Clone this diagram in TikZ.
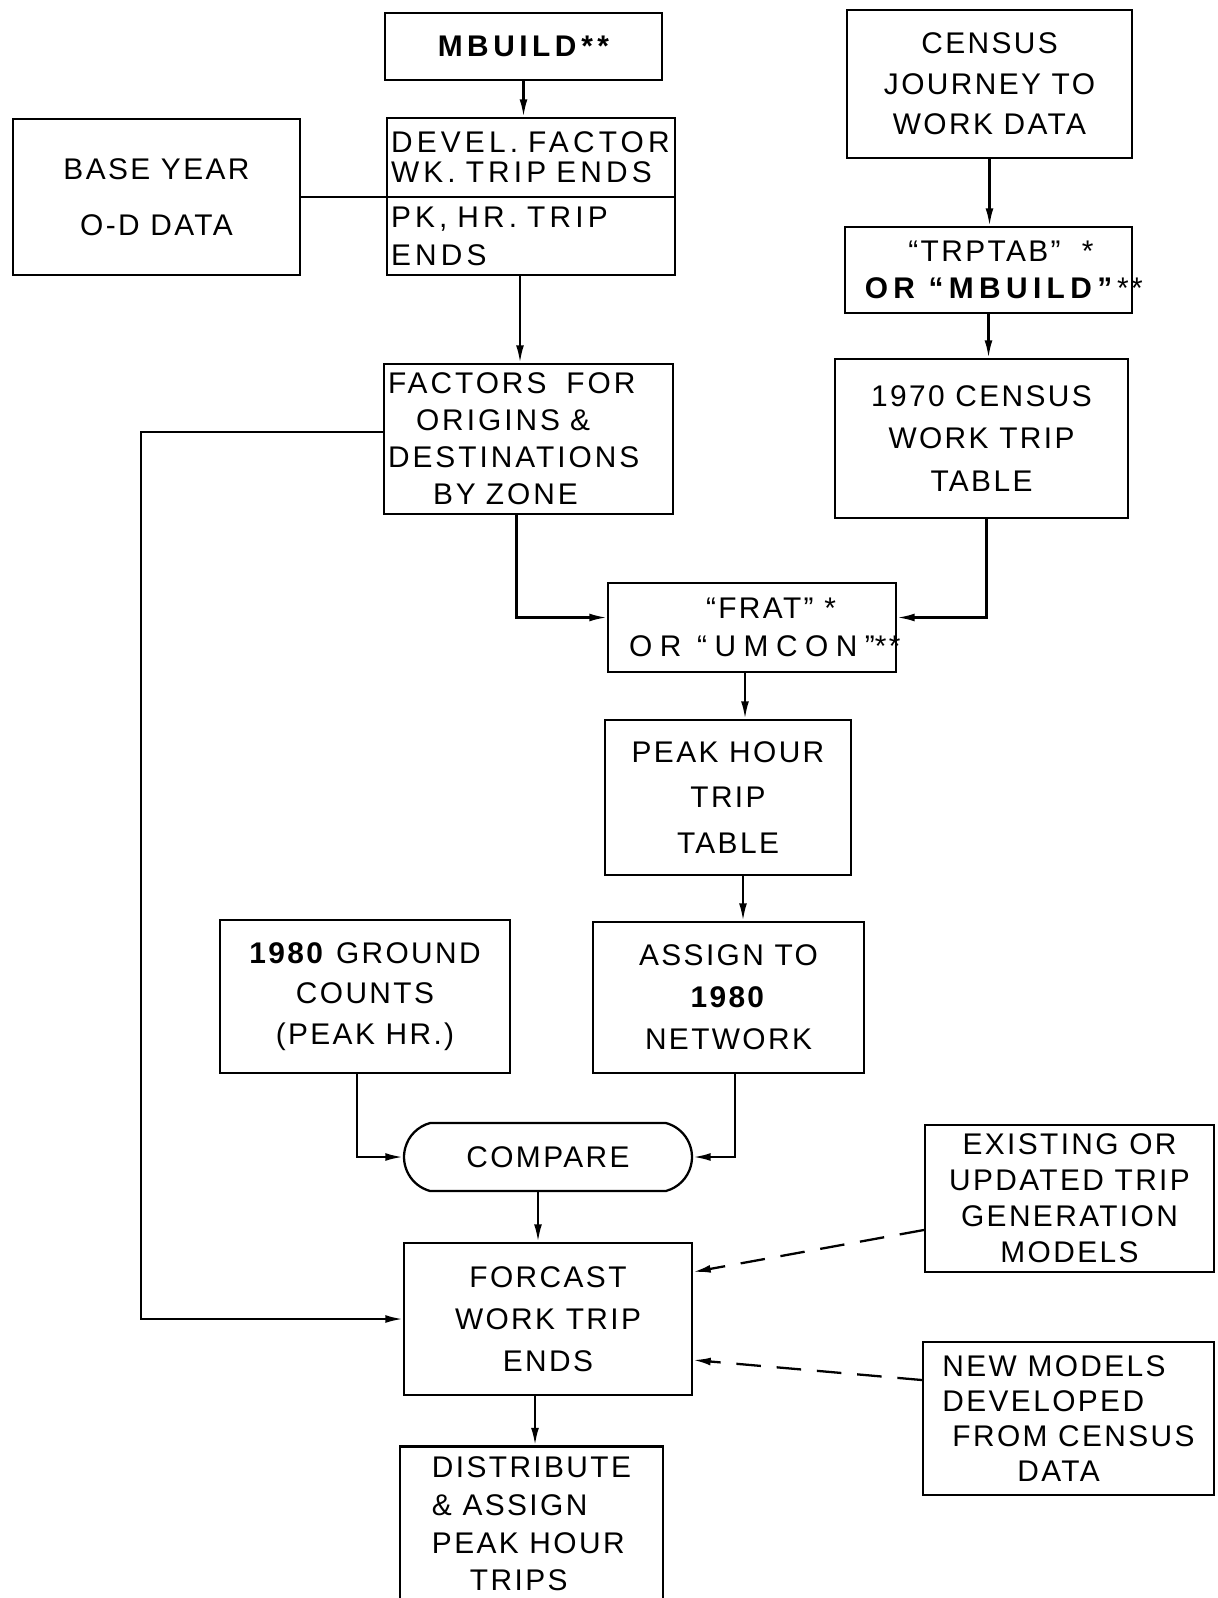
\documentclass[tikz,border=0pt]{standalone}
\usepackage{fontspec}
\setmainfont{Liberation Sans}[LetterSpace=8]
\usetikzlibrary{arrows.meta,shapes.misc}

\begin{document}
\begin{tikzpicture}[x=0.02cm,y=-0.02cm,font=\fontsize{17}{23}\selectfont,
  box/.style={draw,line width=1.3pt,align=center,inner sep=0pt},
  lbox/.style={box,align=left,inner xsep=0.08cm},
  link/.style={line width=1.3pt},
  arr/.style={line width=1.3pt,-{Latex[length=10pt,width=4.5pt]}},
  dasharr/.style={arr,dash pattern=on 14pt off 9pt}]
  \useasboundingbox (0,0) rectangle (1217,1598);
  \clip (0,0) rectangle (1217,1598);
  \fill[white] (0,0) rectangle (1217,1598);

  \node[box,minimum width=5.54cm,minimum height=1.34cm] (mbuild) at (523.5,46.5) {\bfseries\addfontfeature{LetterSpace=15}MBUILD\,**};
  \node[lbox,text width=5.6cm,minimum height=1.58cm,font=\fontsize{17}{17}\selectfont\addfontfeature{LetterSpace=14}] (devela) at (531,157.5) {DEVEL. FACTOR\\WK. TRIP ENDS};
  \node[lbox,text width=5.6cm,minimum height=1.56cm,font=\fontsize{17}{21.5}\selectfont\addfontfeature{LetterSpace=14}] (develb) at (531,236) {PK, HR. TRIP\\ENDS};
  \node[box,minimum width=5.74cm,minimum height=3.12cm,font=\fontsize{17}{32}\selectfont] (baseyr) at (156.5,197) {BASE YEAR\\O-D DATA};
  \node[box,minimum width=5.7cm,minimum height=2.96cm] (census) at (989.5,84) {CENSUS\\JOURNEY TO\\WORK DATA};
  \node[box,minimum width=5.74cm,minimum height=1.72cm,font=\fontsize{17}{21}\selectfont] (trptab) at (988.5,270) {\hspace*{0.5cm}``TRPTAB''\ \ *\\{\bfseries\addfontfeature{LetterSpace=18}OR ``MBUILD''}\rlap{\,**}};
  \node[box,minimum width=5.86cm,minimum height=3.18cm,font=\fontsize{17}{24}\selectfont] (census70) at (981.5,438.5) {1970 CENSUS\\WORK TRIP\\TABLE};
  \node[lbox,text width=5.62cm,minimum height=3cm,font=\fontsize{17}{21}\selectfont\addfontfeature{LetterSpace=10}] (factors) at (528.5,439) {FACTORS\ \ FOR\\\hspace*{0.56cm}ORIGINS \&\\DESTINATIONS\\\hspace*{0.9cm}BY ZONE};
  \node[box,minimum width=5.76cm,minimum height=1.78cm,font=\fontsize{17}{22}\selectfont] (frat) at (752,627.5) {\hspace*{0.76cm}``FRAT''\ *\\{\addfontfeature{LetterSpace=25}OR ``UMCON''}\rlap{**}};
  \node[box,minimum width=4.92cm,minimum height=3.1cm,font=\fontsize{17}{26}\selectfont] (peak) at (728,797.5) {PEAK HOUR\\TRIP\\TABLE};
  \node[box,minimum width=5.42cm,minimum height=3.02cm,font=\fontsize{17}{24}\selectfont] (assign) at (728.5,997.5) {ASSIGN TO\\\textbf{1980}\\NETWORK};
  \node[box,minimum width=5.8cm,minimum height=3.06cm] (ground) at (365,996.5) {\textbf{1980} GROUND\\COUNTS\\(PEAK HR.)};
  \node[box,rounded rectangle,rounded rectangle arc length=150,minimum width=5.76cm,minimum height=1.36cm] (compare) at (548,1157) {COMPARE};
  \node[box,minimum width=5.76cm,minimum height=3.04cm,font=\fontsize{17}{24}\selectfont] (forcast) at (548,1319) {FORCAST\\WORK TRIP\\ENDS};
  \node[box,minimum width=5.78cm,minimum height=2.94cm,font=\fontsize{17}{20.5}\selectfont] (existing) at (1069.5,1198.5) {EXISTING OR\\UPDATED TRIP\\GENERATION\\MODELS};
  \node[box,align=left,minimum width=5.82cm,minimum height=3.06cm,font=\fontsize{17}{20}\selectfont] (newmod) at (1068.5,1418.5) {NEW MODELS\\DEVELOPED\\\hspace*{0.2cm}FROM CENSUS\\\hspace*{1.5cm}DATA};
  \node[box,align=left,minimum width=5.26cm,minimum height=3.1cm,font=\fontsize{17}{21.5}\selectfont] (distrib) at (531.5,1524) {DISTRIBUTE\\\& ASSIGN\\PEAK HOUR\\\hspace*{0.76cm}TRIPS};

  \coordinate (d1) at ([xshift=-0.22cm]develb.south);
  \coordinate (f1) at ([xshift=-0.14cm]frat.south);
  \coordinate (p1) at ([xshift=0.3cm]peak.south);
  \coordinate (c1) at ([xshift=-0.2cm]compare.south);
  \coordinate (w1) at ([xshift=-0.26cm]forcast.south);
  \coordinate (fb) at (141,1319);

  \draw[arr] (mbuild.south) -- (mbuild.south |- devela.north);
  \draw[link] (baseyr.east) -- (baseyr.east -| devela.west);
  \draw[arr] (d1) -- (d1 |- factors.north);
  \draw[arr] ([yshift=0.14cm]factors.west) -| (fb) -- (forcast.west);
  \draw[arr] ([xshift=-0.24cm]factors.south) |- ([yshift=0.2cm]frat.west);
  \draw[arr] (census.south) -- (census.south |- trptab.north);
  \draw[arr] (trptab.south) -- (trptab.south |- census70.north);
  \draw[arr] ([xshift=0.1cm]census70.south) |- ([yshift=0.2cm]frat.east);
  \draw[arr] (f1) -- (f1 |- peak.north);
  \draw[arr] (p1) -- (p1 |- assign.north);
  \draw[arr] ([xshift=-0.16cm]ground.south) |- (compare.west);
  \draw[arr] ([xshift=0.13cm]assign.south) |- (compare.east);
  \draw[arr] (c1) -- (c1 |- forcast.north);
  \draw[dasharr] ([yshift=-0.63cm]existing.west) -- ([yshift=0.94cm]forcast.east);
  \draw[dasharr] ([yshift=0.77cm]newmod.west) -- ([yshift=-0.82cm]forcast.east);
  \draw[arr] (w1) -- (w1 |- distrib.north);
\end{tikzpicture}
\end{document}
